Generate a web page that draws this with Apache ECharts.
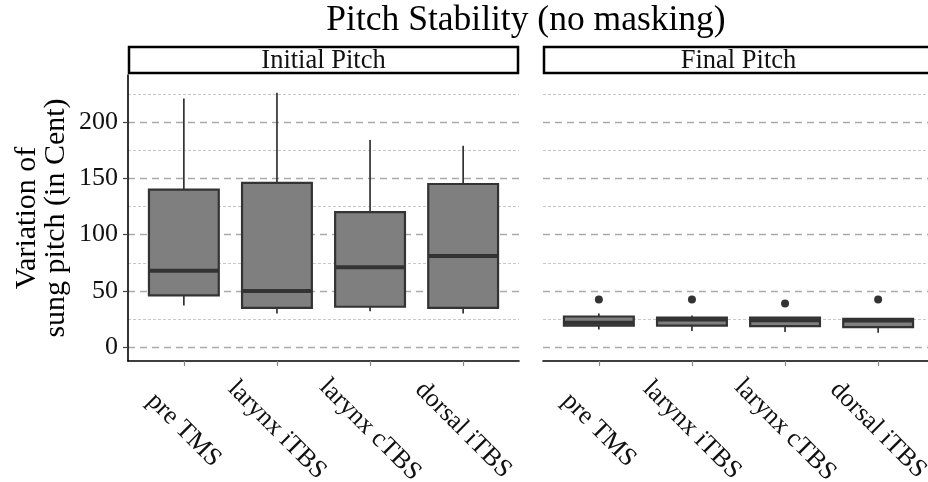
<!DOCTYPE html>
<html>
<head>
<meta charset="utf-8">
<script src="https://cdn.jsdelivr.net/npm/echarts@6/dist/echarts.min.js"></script>
<style>html,body{margin:0;padding:0;background:#fff;}#chart{width:928px;height:482px;}</style>
</head>
<body>
<div id="chart"></div>
<script>
// ---- data ----
const categories = ['pre TMS', 'larynx iTBS', 'larynx cTBS', 'dorsal iTBS'];
const panelTitles = ['Initial Pitch', 'Final Pitch'];
const yTicks = [0, 50, 100, 150, 200];
const yMinorTicks = [25, 75, 125, 175, 225];

// Initial Pitch
const initialLow    = [37, 30, 32, 30];
const initialQ1     = [46, 35, 36, 35];
const initialMedian = [68, 50, 71, 81];
const initialQ3     = [140, 146, 120, 145];
const initialHigh   = [221, 226, 184, 179];

// Final Pitch
const finalLow    = [15.7, 14.5, 13.6, 13.0];
const finalQ1     = [19.3, 19.3, 18.7, 17.8];
const finalMedian = [21.8, 24.6, 24.0, 23.7];
const finalQ3     = [27.3, 26.4, 26.4, 25.2];
const finalHigh   = [30.0, 28.1, 26.8, 25.5];
const finalOutliers = [42.4, 42.4, 38.8, 42.4];

// ---- build ----
const FONT = 'Liberation Serif';
const xPos = categories.map((c, i) => i + 1);

function boxData(lo, q1, md, q3, hi) {
  return xPos.map((x, i) => [x, lo[i], q1[i], md[i], q3[i], hi[i]]);
}

function renderBox(params, api) {
  const x = api.value(0);
  const lo = api.coord([x, api.value(1)]);
  const q1 = api.coord([x, api.value(2)]);
  const md = api.coord([x, api.value(3)]);
  const q3 = api.coord([x, api.value(4)]);
  const hi = api.coord([x, api.value(5)]);
  const w = api.size([0.75, 0])[0];
  const cx = lo[0];
  const stroke = '#333333';
  return {
    type: 'group',
    children: [
      { type: 'line', shape: { x1: cx, y1: q3[1], x2: cx, y2: hi[1] }, style: { stroke, lineWidth: 1.7 } },
      { type: 'line', shape: { x1: cx, y1: q1[1], x2: cx, y2: lo[1] }, style: { stroke, lineWidth: 1.7 } },
      { type: 'rect', shape: { x: cx - w / 2, y: q3[1], width: w, height: q1[1] - q3[1] },
        style: { fill: '#7f7f7f', stroke, lineWidth: 2.2 } },
      { type: 'line', shape: { x1: cx - w / 2, y1: md[1], x2: cx + w / 2, y2: md[1] },
        style: { stroke, lineWidth: 4 } }
    ]
  };
}

const Y_MIN = -12.2, Y_MAX = 241.8;
const grids = [
  { left: 128, top: 75, width: 391, height: 286, containLabel: false, outerBoundsMode: 'none' },
  { left: 543, top: 75, width: 391, height: 286, containLabel: false, outerBoundsMode: 'none' }
];

function xAxisFor(gi) {
  return {
    type: 'value', gridIndex: gi, min: 0.4, max: 4.6,
    axisLine: { show: true, onZero: false, lineStyle: { color: '#000', width: 1.6 } },
    axisTick: { show: true, length: 5, customValues: xPos, lineStyle: { color: '#888', width: 1.2 } },
    axisLabel: {
      show: true, customValues: xPos, rotate: -45, align: 'center', verticalAlign: 'middle',
      margin: 69, fontFamily: FONT, fontSize: 26, color: '#111',
      formatter: v => categories[Math.round(v) - 1] || ''
    },
    splitLine: { show: false }
  };
}

function yAxisMajor(gi, showLabels) {
  return {
    type: 'value', gridIndex: gi, min: Y_MIN, max: Y_MAX,
    name: showLabels ? 'Variation of\nsung pitch (in Cent)' : '',
    nameLocation: 'middle', nameRotate: 90, nameGap: 57,
    nameTextStyle: { fontFamily: FONT, fontSize: 30, color: '#000', lineHeight: 29, align: 'center' },
    axisLine: { show: showLabels, lineStyle: { color: '#000', width: 1.6 } },
    axisTick: { show: showLabels, length: 5, customValues: yTicks, lineStyle: { color: '#444', width: 1.2 } },
    axisLabel: { show: showLabels, customValues: yTicks, margin: 10, fontFamily: FONT, fontSize: 26, color: '#111' },
    splitLine: { show: true, lineStyle: { color: '#aaaaaa', width: 1.3, type: [7, 5] } }
  };
}
function yAxisMinor(gi) {
  return {
    type: 'value', gridIndex: gi, min: Y_MIN, max: Y_MAX, position: 'left',
    axisLine: { show: false }, axisLabel: { show: false },
    axisTick: { show: false, customValues: yMinorTicks },
    splitLine: { show: true, lineStyle: { color: '#c8c8c8', width: 1, type: [3, 2] } }
  };
}

const chart = echarts.init(document.getElementById('chart'), null, { renderer: 'canvas' });
chart.setOption({
  backgroundColor: '#fff',
  animation: false,
  grid: grids,
  xAxis: [xAxisFor(0), xAxisFor(1)],
  yAxis: [yAxisMajor(0, true), yAxisMinor(0), yAxisMajor(1, false), yAxisMinor(1)],
  series: [
    { type: 'custom', xAxisIndex: 0, yAxisIndex: 0, renderItem: renderBox, z: 5,
      encode: { x: 0, y: [1, 2, 3, 4, 5] },
      data: boxData(initialLow, initialQ1, initialMedian, initialQ3, initialHigh) },
    { type: 'custom', xAxisIndex: 1, yAxisIndex: 2, renderItem: renderBox, z: 5,
      encode: { x: 0, y: [1, 2, 3, 4, 5] },
      data: boxData(finalLow, finalQ1, finalMedian, finalQ3, finalHigh) },
    { type: 'scatter', xAxisIndex: 1, yAxisIndex: 2, symbol: 'circle', symbolSize: 8, z: 6,
      itemStyle: { color: '#000' },
      data: xPos.map((x, i) => [x, finalOutliers[i]]) }
  ],
  graphic: [
    { type: 'text', x: 526, y: 3, z: 10,
      style: { text: 'Pitch Stability (no masking)', font: '35.5px "Liberation Serif"', fill: '#000', textAlign: 'center' } },
    { type: 'rect', z: 10, shape: { x: 129, y: 47, width: 389, height: 26 },
      style: { fill: '#fff', stroke: '#000', lineWidth: 2.5 } },
    { type: 'text', z: 11, x: 323.5, y: 61,
      style: { text: panelTitles[0], font: '26.5px "Liberation Serif"', fill: '#111', textAlign: 'center', textVerticalAlign: 'middle' } },
    { type: 'rect', z: 10, shape: { x: 544, y: 47, width: 389, height: 26 },
      style: { fill: '#fff', stroke: '#000', lineWidth: 2.5 } },
    { type: 'text', z: 11, x: 738.5, y: 61,
      style: { text: panelTitles[1], font: '26.5px "Liberation Serif"', fill: '#111', textAlign: 'center', textVerticalAlign: 'middle' } }
  ]
});
</script>
</body>
</html>
